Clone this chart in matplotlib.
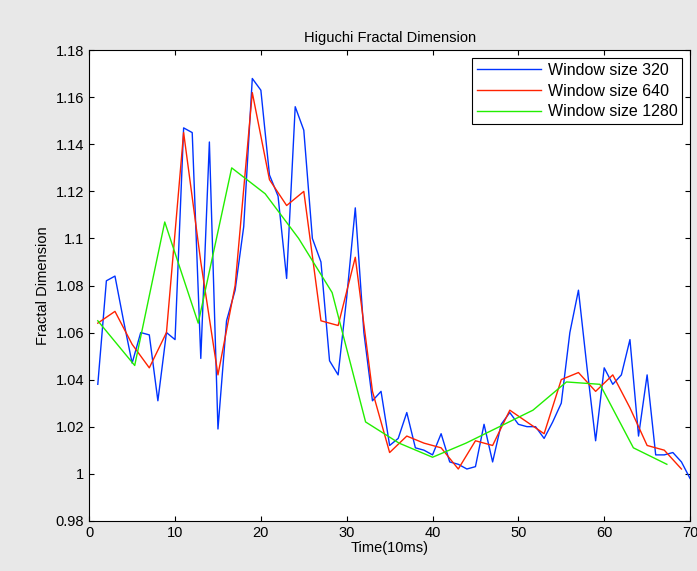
import numpy as np
import matplotlib.pyplot as plt

plt.rcParams['font.family'] = ['Liberation Sans', 'DejaVu Sans']

x320 = list(range(1, 71))
hfd320 = [1.038, 1.082, 1.084, 1.065, 1.047, 1.060, 1.059, 1.031, 1.060, 1.057,
          1.147, 1.145, 1.049, 1.141, 1.019, 1.065, 1.078, 1.105, 1.168, 1.163,
          1.127, 1.118, 1.083, 1.156, 1.146, 1.100, 1.090, 1.048, 1.042, 1.075,
          1.113, 1.060, 1.031, 1.035, 1.012, 1.015, 1.026, 1.011, 1.010, 1.008,
          1.017, 1.005, 1.004, 1.002, 1.003, 1.021, 1.005, 1.021, 1.026, 1.021,
          1.020, 1.020, 1.015, 1.022, 1.030, 1.060, 1.078, 1.045, 1.014, 1.045,
          1.038, 1.042, 1.057, 1.016, 1.042, 1.008, 1.008, 1.009, 1.005, 0.998]

x640 = list(range(1, 70, 2))
hfd640 = [1.064, 1.069, 1.055, 1.045, 1.060, 1.145, 1.090, 1.042, 1.080, 1.162,
          1.125, 1.114, 1.120, 1.065, 1.063, 1.092, 1.035, 1.009, 1.016, 1.013,
          1.011, 1.002, 1.014, 1.012, 1.027, 1.022, 1.017, 1.040, 1.043, 1.035,
          1.042, 1.028, 1.012, 1.010, 1.002]

x1280 = [1, 5.3, 8.8, 12.7, 16.6, 20.5, 24.4, 28.3, 32.2, 36.1, 40, 43.9,
         47.8, 51.7, 55.6, 59.5, 63.4, 67.3]
hfd1280 = [1.065, 1.046, 1.107, 1.064, 1.130, 1.119, 1.100, 1.077, 1.022, 1.013,
           1.007, 1.013, 1.020, 1.027, 1.039, 1.038, 1.011, 1.004]

fig = plt.figure(figsize=(6.97, 5.71), dpi=100)
fig.patch.set_facecolor('#e8e8e8')
ax = fig.add_axes([0.128, 0.088, 0.862, 0.824])

ax.plot(x320, hfd320, color='#0033ff', lw=1, label='Window size 320')
ax.plot(x640, hfd640, color='#ff2200', lw=1, label='Window size 640')
ax.plot(x1280, hfd1280, color='#22ee00', lw=1, label='Window size 1280')

ax.set_xlim(0, 70)
ax.set_ylim(0.98, 1.18)
ax.set_xticks(range(0, 71, 10))
ax.set_yticks(np.arange(0.98, 1.1801, 0.02))
ax.set_yticklabels(['0.98', '1', '1.02', '1.04', '1.06', '1.08', '1.1',
                    '1.12', '1.14', '1.16', '1.18'])
ax.tick_params(direction='in', top=True, right=True, labelsize=10.5)
ax.set_title('Higuchi Fractal Dimension', fontsize=10.5)
ax.set_xlabel('Time(10ms)', fontsize=10.5, labelpad=1)
ax.set_ylabel('Fractal Dimension', fontsize=10.5)

leg = ax.legend(loc='upper right', prop={'size': 11.5}, fancybox=False,
                framealpha=1, edgecolor='black', handlelength=4.0,
                handletextpad=0.4, borderaxespad=0.5, labelspacing=0.35,
                borderpad=0.3)
leg.get_frame().set_linewidth(0.8)

fig.savefig('out.png')
